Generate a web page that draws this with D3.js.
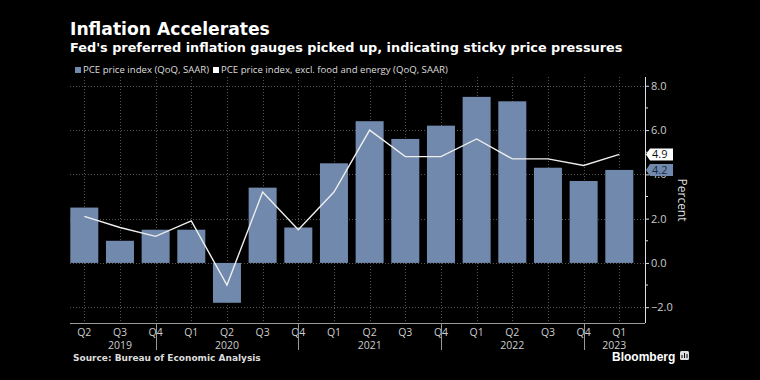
<!DOCTYPE html>
<html><head><meta charset="utf-8">
<script src="https://cdn.jsdelivr.net/npm/d3@7"></script>
<style>body{margin:0;background:#000}svg{display:block}</style>
</head><body>
<svg id="c" width="760" height="380"></svg>
<script>
const quarters = ["Q2","Q3","Q4","Q1","Q2","Q3","Q4","Q1","Q2","Q3","Q4","Q1","Q2","Q3","Q4","Q1"];
const years    = [2019,2019,2019,2020,2020,2020,2020,2021,2021,2021,2021,2022,2022,2022,2022,2023];
const pce      = [2.5,1.0,1.5,1.5,-1.8,3.4,1.6,4.5,6.4,5.6,6.2,7.5,7.3,4.3,3.7,4.2];
const corePce  = [2.1,1.6,1.2,1.9,-1.0,3.2,1.5,3.2,6.0,4.8,4.8,5.6,4.7,4.7,4.4,4.9];
const yTicks   = [-2,0,2,4,6,8];
const yMinor   = [-1,1,3,5,7];
const yearLabels = ["2019","2020","2021","2022","2023"];

const svg = d3.select("#c");
svg.append("rect").attr("width",760).attr("height",380).attr("fill","#000");
const L=70,R=645,T=77,B=323;
const ids = quarters.map((q,i)=>q+" "+years[i]);
const x = d3.scalePoint().domain(ids).range([84.3,619.3]);
const y = d3.scaleLinear().domain([-2,8]).range([307.2,85.8]);
const bw = 28;

function fitText(sel, target){
  const w = sel.node().getComputedTextLength();
  const fs = parseFloat(sel.attr("font-size"));
  sel.attr("font-size", (fs*target/w).toFixed(2));
}
// title
const t1 = svg.append("text").attr("x",70).attr("y",35).attr("fill","#fff")
  .attr("font-family","DejaVu Sans, sans-serif").attr("font-weight","bold").attr("font-size",18)
  .text("Inflation Accelerates");
fitText(t1, 200);
const t2 = svg.append("text").attr("x",70).attr("y",51.5).attr("fill","#fff")
  .attr("font-family","DejaVu Sans, sans-serif").attr("font-weight","bold").attr("font-size",13)
  .text("Fed's preferred inflation gauges picked up, indicating sticky price pressures");
fitText(t2, 553);

// legend
const lg = svg.append("g").attr("font-family","Open Sans, sans-serif").attr("font-size",9.6).attr("fill","#ddd");
lg.append("rect").attr("x",75).attr("y",67).attr("width",6).attr("height",6).attr("fill","#7189ad");
lg.append("text").attr("x",83).attr("y",73.3).text("PCE price index (QoQ, SAAR)");
lg.append("rect").attr("x",213).attr("y",67).attr("width",6).attr("height",6).attr("fill","#fff");
lg.append("text").attr("x",221).attr("y",73.3).text("PCE price index, excl. food and energy (QoQ, SAAR)");

// grid
const grid = svg.append("g").attr("stroke","#555").attr("stroke-width",1).attr("stroke-dasharray","1,2");
grid.selectAll("line.h").data(yTicks).join("line").attr("class","h")
  .attr("x1",L).attr("x2",R).attr("y1",d=>Math.round(y(d))+0.5).attr("y2",d=>Math.round(y(d))+0.5);
grid.selectAll("line.v").data(ids).join("line").attr("class","v")
  .attr("x1",d=>Math.round(x(d))+0.5).attr("x2",d=>Math.round(x(d))+0.5).attr("y1",T).attr("y2",B);

// bars
svg.append("g").selectAll("rect").data(pce).join("rect")
  .attr("x",(d,i)=>x(ids[i])-bw/2).attr("width",bw)
  .attr("y",d=>y(Math.max(0,d))).attr("height",d=>Math.abs(y(d)-y(0)))
  .attr("fill","#7189ad");

// line
svg.append("path").datum(corePce)
  .attr("d",d3.line().x((d,i)=>x(ids[i])).y(d=>y(d)))
  .attr("fill","none").attr("stroke","#eee").attr("stroke-width",1.4);

// x axis
svg.append("line").attr("x1",L).attr("x2",R).attr("y1",B+0.5).attr("y2",B+0.5).attr("stroke","#999");
const xl = svg.append("g").attr("font-family","Open Sans, sans-serif").attr("font-size",10.5).attr("fill","#ccc").attr("text-anchor","middle");
xl.selectAll("text").data(quarters).join("text").attr("x",(d,i)=>x(ids[i])).attr("y",335.5).text(d=>d);
const sepIdx = quarters.map((q,i)=>q==="Q4"?i:-1).filter(i=>i>=0);
svg.append("g").selectAll("line").data(sepIdx).join("line")
  .attr("x1",i=>Math.round(x(ids[i]))+0.5).attr("x2",i=>Math.round(x(ids[i]))+0.5)
  .attr("y1",B).attr("y2",350).attr("stroke","#999");
const bounds = [x(ids[0]), ...sepIdx.map(i=>x(ids[i])), R];
const yl = svg.append("g").attr("font-family","Open Sans, sans-serif").attr("font-size",10.5).attr("fill","#ccc").attr("text-anchor","middle");
yl.selectAll("text").data(yearLabels).join("text").attr("x",(d,i)=>(bounds[i]+bounds[i+1])/2).attr("y",349).text(d=>d);

// y axis
svg.append("line").attr("x1",R+0.5).attr("x2",R+0.5).attr("y1",T).attr("y2",B).attr("stroke","#ddd");
const ya = svg.append("g").attr("transform",`translate(${R},0)`)
  .call(d3.axisRight(y).tickValues(yTicks).tickSize(4).tickPadding(2).tickFormat(d3.format(".1f")));
ya.select(".domain").remove();
ya.selectAll("line").attr("stroke","#ddd");
ya.selectAll("text").attr("fill","#ccc").attr("font-family","Open Sans, sans-serif").attr("font-size",11);
svg.append("g").selectAll("line").data(yMinor).join("line")
  .attr("x1",R).attr("x2",R+3).attr("y1",d=>y(d)).attr("y2",d=>y(d)).attr("stroke","#ddd");

svg.append("text").attr("transform",`translate(678,200) rotate(90)`).attr("text-anchor","middle")
  .attr("font-family","Open Sans, sans-serif").attr("font-size",12).attr("fill","#ddd").text("Percent");

// callouts
function callout(v, bg, fg){
  const cy = y(v);
  const g = svg.append("g");
  g.append("path").attr("d",`M${R+1},${cy} L${R+5},${cy-6} L${R+28},${cy-6} L${R+28},${cy+6} L${R+5},${cy+6} Z`).attr("fill",bg);
  g.append("text").attr("x",R+7).attr("y",cy+4).attr("font-family","Open Sans, sans-serif").attr("font-size",11)
    .attr("fill",fg).text(d3.format(".1f")(v));
}
callout(corePce[corePce.length-1],"#fff","#111");
callout(pce[pce.length-1],"#7189ad","#1a2a40");

// source
svg.append("text").attr("x",73).attr("y",361).attr("fill","#ddd")
  .attr("font-family","DejaVu Sans, sans-serif").attr("font-weight","bold").attr("font-size",9)
  .text("Source: Bureau of Economic Analysis");
svg.append("text").attr("x",612).attr("y",361).attr("fill","#fff")
  .attr("font-family","Liberation Sans, Arial, sans-serif").attr("font-weight","bold").attr("font-size",12)
  .text("Bloomberg");
const ic = svg.append("g");
ic.append("rect").attr("x",680).attr("y",351).attr("width",9).attr("height",9).attr("rx",1.5).attr("fill","#ddd");
ic.append("path").attr("d","M682,358V355 M684.5,358V353 M687,358V354").attr("stroke","#000").attr("stroke-width",1);
</script>
</body></html>
